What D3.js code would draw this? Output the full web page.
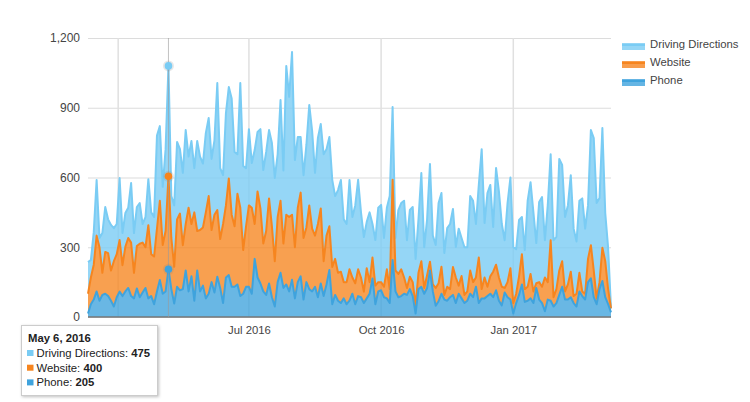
<!DOCTYPE html>
<html>
<head>
<meta charset="utf-8">
<script src="https://cdnjs.cloudflare.com/ajax/libs/d3/7.8.5/d3.min.js"></script>
<style>
  body { margin: 0; background: #fff; }
  text { font-family: "Liberation Sans", Arial, sans-serif; font-size: 11.3px; fill: #444; }
  .y-axis text { font-size: 12px; }
  .tip text { fill: #222; }
</style>
</head>
<body>
<svg id="chart" width="750" height="402"></svg>
<script>
// one reading every second day, starting Mar 11 2016
const startDate = new Date(2016, 2, 11);
const stepDays = 2;

const phone = [15,55,75,110,70,95,100,90,70,45,85,109,90,110,125,90,80,123,85,105,125,80,90,55,110,159,100,110,205,120,58,130,115,120,200,110,175,70,200,110,135,80,100,150,105,173,125,60,170,180,130,130,140,90,100,130,130,100,250,170,144,110,95,144,85,45,150,190,125,140,110,160,80,150,175,75,150,120,110,130,85,144,90,140,202,55,95,70,60,80,55,70,100,55,90,85,60,80,100,166,55,110,115,85,80,60,245,110,85,90,100,95,120,90,15,120,130,100,125,200,110,48,68,100,75,70,85,95,60,100,80,60,70,100,85,130,60,80,80,90,100,85,115,70,50,105,85,75,15,60,95,140,65,70,80,60,125,75,60,25,75,70,45,60,95,130,75,75,85,60,45,110,90,75,150,166,85,55,120,155,85,55,20];
const website = [85,115,150,240,230,95,180,185,130,195,185,222,133,192,215,230,110,182,230,215,175,315,180,205,270,341,210,260,400,220,158,290,330,189,200,360,225,380,170,264,250,370,420,224,335,287,210,340,310,416,310,260,390,380,188,260,350,370,150,370,323,206,275,366,305,195,280,310,191,300,320,280,220,320,360,265,235,360,270,220,315,323,150,210,188,160,155,120,135,70,95,135,70,90,115,85,49,130,50,90,80,40,35,45,125,60,345,90,100,115,70,30,53,60,35,70,110,25,55,38,30,77,77,116,20,60,35,120,110,35,96,35,40,100,65,40,196,40,90,40,75,110,110,100,80,20,65,135,45,40,80,130,55,60,105,50,20,75,70,145,75,260,40,60,105,110,35,65,110,30,55,80,20,25,100,143,115,25,30,143,155,65,17];
const driving = [136,75,140,239,40,171,193,145,196,142,130,267,138,145,130,256,171,168,175,80,130,198,180,170,400,321,250,352,475,180,264,333,277,311,404,220,357,190,387,316,275,341,336,306,320,546,305,210,397,393,500,320,170,536,362,250,328,192,318,256,341,316,340,294,358,358,270,433,314,640,517,700,375,304,239,270,355,432,420,270,370,363,460,372,384,375,270,356,394,270,250,384,260,335,385,280,235,199,300,144,196,320,332,210,265,400,313,140,275,285,330,205,287,323,200,230,379,175,240,420,210,185,345,317,180,252,280,250,131,245,164,205,190,320,350,230,312,602,234,403,393,192,416,370,270,205,340,390,240,192,242,160,168,370,395,340,173,345,386,160,332,370,245,225,480,414,320,340,415,290,225,310,400,280,230,495,570,410,362,515,207,177,0];

const seriesNames = ["Driving Directions", "Website", "Phone"];
const seriesKeys = ["driving", "website", "phone"];
const lineColors = { driving: "#7accf4", website: "#f6851f", phone: "#3fa3dd" };

const yTicks = [0, 300, 600, 900, 1200];
const gridDates = [new Date(2016, 3, 1), new Date(2016, 6, 1), new Date(2016, 9, 1), new Date(2017, 0, 1)];
const labelDates = [new Date(2016, 6, 1), new Date(2016, 9, 1), new Date(2017, 0, 1)];
const hoverDate = new Date(2016, 4, 6);
const hoverLabel = "May 6, 2016";

const margin = { top: 38, left: 88, right: 139, bottom: 85 };
const width = 750, height = 402;

const rows = driving.map((d, i) => ({
  date: d3.timeDay.offset(startDate, i * stepDays),
  driving: d,
  website: website[i],
  phone: phone[i]
}));

const x = d3.scaleTime()
  .domain(d3.extent(rows, d => d.date))
  .range([margin.left, width - margin.right]);

const y = d3.scaleLinear()
  .domain([0, 1200])
  .range([height - margin.bottom, margin.top]);

const svg = d3.select("#chart");

// grid + axes
svg.append("g")
  .attr("class", "y-axis")
  .attr("transform", `translate(${margin.left},0)`)
  .call(d3.axisLeft(y)
    .tickValues(yTicks)
    .tickFormat(d3.format(","))
    .tickSize(-(width - margin.left - margin.right))
    .tickPadding(8))
  .call(g => g.select(".domain").remove())
  .call(g => g.selectAll(".tick line").attr("stroke", "#dcdcdc").attr("stroke-width", 1.2));

svg.append("g")
  .selectAll("line")
  .data(gridDates)
  .join("line")
  .attr("x1", d => x(d)).attr("x2", d => x(d))
  .attr("y1", y(1200)).attr("y2", y(0))
  .attr("stroke", "#e0e0e0").attr("stroke-width", 1.5);

svg.append("g")
  .attr("transform", `translate(0,${y(0)})`)
  .call(d3.axisBottom(x)
    .tickValues(labelDates)
    .tickFormat(d3.timeFormat("%b %Y"))
    .tickSize(0)
    .tickPadding(9))
  .call(g => g.select(".domain").remove());

// stacked areas, top series first so the lower ones sit over it
const stacked = d3.stack().keys(["phone", "website", "driving"])(rows);

const area = d3.area()
  .x(d => x(d.data.date))
  .y0(d => y(d[0]))
  .y1(d => y(d[1]));

const topLine = d3.line()
  .x(d => x(d.data.date))
  .y(d => y(d[1]));

const layers = svg.append("g");
stacked.slice().reverse().forEach(s => {
  layers.append("path")
    .attr("d", area(s))
    .attr("fill", lineColors[s.key])
    .attr("fill-opacity", s.key === "driving" ? 0.8 : 0.78);
  layers.append("path")
    .attr("d", topLine(s))
    .attr("fill", "none")
    .attr("stroke", lineColors[s.key])
    .attr("stroke-width", 2)
    .attr("stroke-linejoin", "round");
});

// baseline
svg.append("line")
  .attr("x1", margin.left).attr("x2", width - margin.right)
  .attr("y1", y(0)).attr("y2", y(0))
  .attr("stroke", "#777").attr("stroke-opacity", 0.75).attr("stroke-width", 2);

// hover crosshair and markers
const hoverIdx = rows.findIndex(d => +d.date === +hoverDate);
svg.append("line")
  .attr("x1", x(hoverDate)).attr("x2", x(hoverDate))
  .attr("y1", y(1200)).attr("y2", y(0))
  .attr("stroke", "#999").attr("stroke-opacity", 0.6).attr("stroke-width", 1);

stacked.forEach(s => {
  const yVal = y(s[hoverIdx][1]);
  svg.append("circle").attr("cx", x(hoverDate)).attr("cy", yVal).attr("r", 5.5)
    .attr("fill", "#888").attr("fill-opacity", 0.2);
  svg.append("circle").attr("cx", x(hoverDate)).attr("cy", yVal).attr("r", 3.8)
    .attr("fill", lineColors[s.key]);
});

// legend
const legend = svg.append("g");
seriesKeys.forEach((key, i) => {
  const rowY = d3.scalePoint().domain(seriesKeys).range([43, 79])(key);
  legend.append("rect").attr("x", 622).attr("y", rowY).attr("width", 23).attr("height", 7)
    .attr("fill", lineColors[key]).attr("fill-opacity", 0.8);
  legend.append("line").attr("x1", 622).attr("x2", 645).attr("y1", rowY + 2).attr("y2", rowY + 2)
    .attr("stroke", lineColors[key]).attr("stroke-width", 2);
  legend.append("text").attr("x", 650).attr("y", rowY + 4.5).text(seriesNames[i]);
});

// tooltip box
const tip = svg.append("g").attr("class", "tip");
tip.append("rect")
  .attr("x", 21.5).attr("y", 325.5).attr("width", 136).attr("height", 70)
  .attr("fill", "#fff").attr("stroke", "#ccc")
  .style("filter", "drop-shadow(1px 1px 1.5px rgba(0,0,0,0.25))");
tip.append("text").attr("x", 28).attr("y", 342).attr("font-weight", "bold").text(hoverLabel);
seriesKeys.forEach((key, i) => {
  const rowY = 357 + i * 14.7;
  tip.append("rect").attr("x", 27).attr("y", rowY - 7).attr("width", 6.5).attr("height", 6)
    .attr("fill", lineColors[key]);
  const t = tip.append("text").attr("x", 36.5).attr("y", rowY);
  t.append("tspan").text(seriesNames[i] + ": ");
  t.append("tspan").attr("font-weight", "bold").text(rows[hoverIdx][key]);
});
</script>
</body>
</html>
